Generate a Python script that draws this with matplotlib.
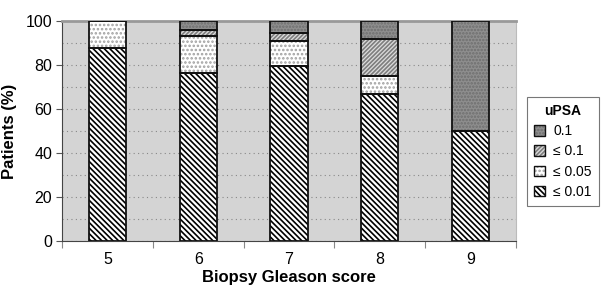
import matplotlib.pyplot as plt
from matplotlib.patches import Patch

plt.rcParams['font.family'] = ['Liberation Sans', 'DejaVu Sans']
plt.rcParams['hatch.linewidth'] = 1.2

# data
scores = ['5', '6', '7', '8', '9']
le_001 = [87.5, 76.5, 79.6, 66.7, 50.0]
le_005 = [12.5, 16.7, 11.1, 8.3, 0.0]
le_01 = [0.0, 2.9, 3.7, 16.7, 0.0]
gt_01 = [0.0, 3.9, 5.6, 8.3, 50.0]
labels = ['\u2264 0.01', '\u2264 0.05', '\u2264 0.1', '0.1']

# face, hatch colour, hatch pattern for each series
styles = [
    ('white', 'black', '\\' * 6),
    ('white', '#a0a0a0', '.' * 4),
    ('#dcdcdc', '#7e7e7e', '/' * 8),
    ('#8e8e8e', '#6e6e6e', '.' * 5),
]

fig = plt.figure(figsize=(6.05, 2.86), dpi=100)
ax = fig.add_axes([62 / 605, 45 / 286, 454 / 605, 220 / 286])
ax.set_facecolor('#d4d4d4')

x = list(range(len(scores)))
width = 0.41
bottom = [0.0] * len(scores)
handles = []
for vals, (face, hcol, hatch), lab in zip([le_001, le_005, le_01, gt_01], styles, labels):
    ax.bar(x, vals, width, bottom=bottom, color=face, edgecolor=hcol,
           hatch=hatch, linewidth=0, zorder=3)
    ax.bar(x, vals, width, bottom=bottom, fill=False, edgecolor='#111111',
           linewidth=1.3, zorder=4)
    handles.append((Patch(facecolor=face, edgecolor=hcol, hatch=hatch, linewidth=0),
                    Patch(fill=False, edgecolor='#111111', linewidth=1.0)))
    bottom = [b + v for b, v in zip(bottom, vals)]

ax.set_xlim(-0.5, 4.5)
ax.set_ylim(0, 100)

ax.set_yticks(range(0, 101, 20))
ax.set_yticks(range(10, 100, 20), minor=True)
ax.grid(axis='y', which='both', color='#888888', linestyle=(0, (1, 3)), linewidth=0.8, zorder=1)
ax.tick_params(axis='y', which='major', labelsize=11.5, length=4, color='#555555', pad=3)
ax.tick_params(axis='y', which='minor', length=0)

ax.set_xticks([i + 0.5 for i in range(-1, 5)])
ax.set_xticklabels([])
ax.set_xticks(x, minor=True)
ax.set_xticklabels(scores, minor=True)
ax.tick_params(axis='x', which='major', length=5, color='#888888')
ax.tick_params(axis='x', which='minor', length=0, labelsize=11.5, pad=8)

ax.spines['left'].set_color('#444444')
ax.spines['bottom'].set_color('#444444')
ax.spines['top'].set_color('#999999')
ax.spines['top'].set_linewidth(2)
ax.spines['right'].set_color('#bbbbbb')

ax.set_xlabel('Biopsy Gleason score', fontsize=12, fontweight='bold', labelpad=2)
ax.set_ylabel('Patients (%)', fontsize=12, fontweight='bold', labelpad=6)

leg = fig.legend(handles[::-1], labels[::-1], title='uPSA', loc='upper left',
                 bbox_to_anchor=(527 / 605, 1 - 97 / 286), borderaxespad=0,
                 fontsize=10, title_fontproperties={'weight': 'bold', 'size': 10},
                 fancybox=False, edgecolor='#777777', framealpha=1,
                 handlelength=0.8, handleheight=0.8, handletextpad=0.6,
                 labelspacing=0.45, borderpad=0.5)
leg.get_frame().set_linewidth(0.8)

fig.savefig('out.png', dpi=100)
